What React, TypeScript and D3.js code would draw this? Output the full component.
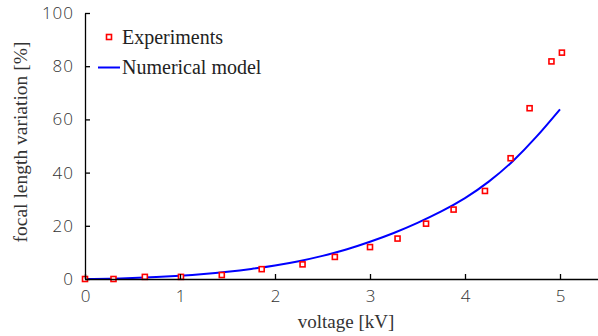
import { useEffect, useRef } from "react";
import * as d3 from "d3";

// experimental points (voltage kV, focal length variation %)
const expVoltage = [0, 0.3, 0.63, 1.01, 1.44, 1.86, 2.29, 2.63, 3.0, 3.29, 3.59, 3.88, 4.21, 4.48, 4.68, 4.91, 5.02];
const expVariation = [0, 0, 0.8, 0.8, 1.5, 3.7, 5.5, 8.3, 12.0, 15.2, 20.8, 26.1, 33.1, 45.4, 64.2, 81.8, 85.1];

// numerical model curve
const modelVoltage = [0, 0.25, 0.5, 0.75, 1.0, 1.25, 1.5, 1.75, 2.0, 2.25, 2.5, 2.75, 3.0, 3.25, 3.5, 3.75, 4.0, 4.25, 4.5, 4.75, 5.0];
const modelVariation = [0, 0.1, 0.35, 0.75, 1.25, 1.9, 2.75, 3.8, 5.1, 6.7, 8.7, 11.1, 14.0, 17.3, 21.1, 25.4, 30.4, 36.6, 44.2, 53.4, 63.8];

const xTicks = [0, 1, 2, 3, 4, 5];
const yTicks = [0, 20, 40, 60, 80, 100];

export default function App() {
  const svgRef = useRef<SVGSVGElement>(null);

  useEffect(() => {
    const svg = d3.select(svgRef.current);
    svg.selectAll("*").remove();

    const x = d3.scaleLinear().domain([0, 5.4]).range([85, 598]);
    const y = d3.scaleLinear().domain([0, 100]).range([279, 13]);

    const serif = "'Liberation Serif', 'DejaVu Serif', serif";
    const sans = "'Open Sans', 'DejaVu Sans', sans-serif";

    // model line
    const line = d3.line<number>()
      .x((d, i) => x(modelVoltage[i]))
      .y(d => y(d))
      .curve(d3.curveNatural);

    svg.append("path")
      .datum(modelVariation)
      .attr("d", line)
      .attr("fill", "none")
      .attr("stroke", "#0000ff")
      .attr("stroke-width", 2);

    // experiment markers
    svg.selectAll(".pt")
      .data(expVariation)
      .join("rect")
      .attr("class", "pt")
      .attr("x", (d, i) => x(expVoltage[i]) - 2.5)
      .attr("y", d => y(d) - 2.5)
      .attr("width", 5)
      .attr("height", 5)
      .attr("fill", "white")
      .attr("stroke", "#ff0000")
      .attr("stroke-width", 1.6);

    // x axis
    const xAxis = d3.axisBottom(x)
      .tickValues(xTicks)
      .tickSizeInner(-5)
      .tickSizeOuter(0)
      .tickPadding(11)
      .tickFormat(d3.format("d"));
    const gx = svg.append("g")
      .attr("transform", `translate(0,${y(0)})`)
      .call(xAxis);
    gx.select(".domain").attr("stroke", "#000").attr("stroke-width", 1.3);
    gx.selectAll(".tick line").attr("stroke", "#000").attr("stroke-width", 1.3);
    gx.selectAll(".tick text")
      .attr("font-family", sans)
      .attr("font-weight", 300)
      .attr("font-size", 17)
      .attr("fill", "#333");

    // y axis
    const yAxis = d3.axisLeft(y)
      .tickValues(yTicks)
      .tickSizeInner(-5)
      .tickSizeOuter(0)
      .tickPadding(11)
      .tickFormat(d3.format("d"));
    const gy = svg.append("g")
      .attr("transform", `translate(${x(0)},0)`)
      .call(yAxis);
    gy.select(".domain").attr("stroke", "#000").attr("stroke-width", 1.3);
    gy.selectAll(".tick line").attr("stroke", "#000").attr("stroke-width", 1.3);
    gy.selectAll(".tick text")
      .attr("font-family", sans)
      .attr("font-weight", 300)
      .attr("font-size", 17)
      .attr("letter-spacing", 1)
      .attr("fill", "#333");

    // axis titles
    svg.append("text")
      .attr("x", 346)
      .attr("y", 328)
      .attr("text-anchor", "middle")
      .attr("font-family", serif)
      .attr("font-size", 19)
      .attr("fill", "#333")
      .text("voltage [kV]");

    svg.append("text")
      .attr("transform", "translate(27,142) rotate(-90)")
      .attr("text-anchor", "middle")
      .attr("font-family", serif)
      .attr("font-size", 19.5)
      .attr("fill", "#333")
      .text("focal length variation [%]");

    // legend
    const legend = svg.append("g");
    legend.append("rect")
      .attr("x", 106.5)
      .attr("y", 34.5)
      .attr("width", 5)
      .attr("height", 5)
      .attr("fill", "white")
      .attr("stroke", "#ff0000")
      .attr("stroke-width", 1.6);
    legend.append("text")
      .attr("x", 122)
      .attr("y", 43.5)
      .attr("font-family", serif)
      .attr("font-size", 20)
      .attr("fill", "#222")
      .text("Experiments");
    legend.append("line")
      .attr("x1", 98)
      .attr("x2", 120)
      .attr("y1", 67.5)
      .attr("y2", 67.5)
      .attr("stroke", "#0000ff")
      .attr("stroke-width", 2);
    legend.append("text")
      .attr("x", 122)
      .attr("y", 73.5)
      .attr("font-family", serif)
      .attr("font-size", 20)
      .attr("fill", "#222")
      .text("Numerical model");
  }, []);

  return (
    <svg
      ref={svgRef}
      width={598}
      height={336}
      style={{ position: "absolute", left: 0, top: 0, background: "white" }}
    />
  );
}
